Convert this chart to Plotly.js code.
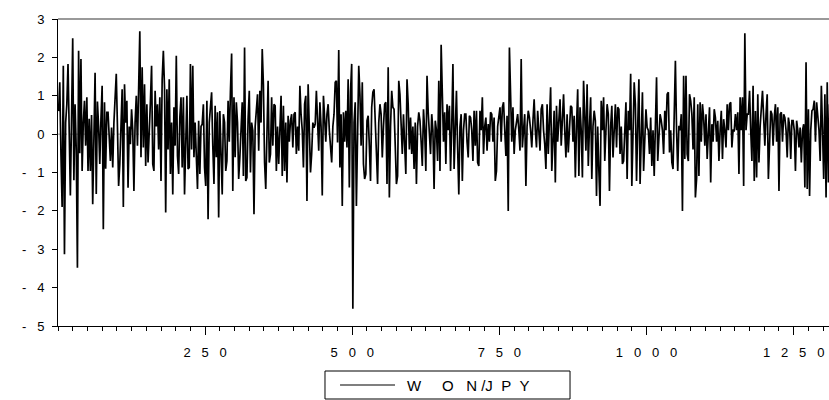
<!DOCTYPE html>
<html>
<head>
<meta charset="utf-8">
<script src="https://cdn.plot.ly/plotly-3.0.1.min.js"></script>
<style>html,body{margin:0;padding:0;background:#fff;}#chart{width:829px;height:400px;}</style>
</head>
<body>
<div id="chart"></div>
<script>
const seg0 = [0.6,1.35,-0.5,-1.9,1.78,-3.13,0.3,0.78,1.83,-0.6,-1.6,0.4,2.5,-1.2,0.78,-0.4,-3.48,2.17,-0.5,1.96,-0.96,0.3,0.87,-0.3,0.96,-0.96,0.4,-0.96,0.5,-1.83,0.3,1.6,-1.56,0.85,0.2,-0.78,0.4,1.26,-2.48,0.83,-0.9,0.57,0.57,-0.3,-0.7,0.17,-0.87,0.3,0.96,1.57,0.2,-1.35,-0.78,0.4,1.17,-1.9,1.3];
const seg1 = [0.3,0.87,-1.4,0.2,-0.26,0.65,0.1,-1.48,0.3,1.0,-0.3,0.9,2.68,-0.6,1.74,-0.35,1.3,-0.83,0.78,-0.74,0.4,0.83,1.78,-0.78,-0.96,1.13,0.2,0.78,-0.4,0.96,-1.22,1.43,2.17,1.2,-2.04,1.17,-0.4,1.43,-1.04,0.3,-1.57,0.7,-0.3,2.04,-0.57,-1.04,0.43,0.96,-0.87,0.96,-1.57,0.3,1.0,-0.91,-0.87,1.83,-0.4,1.78,-0.6,0.3];
const seg2 = [-0.6,-1.43,0.35,-1.04,0.2,0.26,0.78,-0.87,-1.35,0.87,-2.22,0.3,0.7,1.09,-0.3,-1.3,0.74,-0.6,0.57,-2.17,0.6,-0.3,-1.57,0.52,0.3,-0.96,-0.7,0.87,-0.2,1.13,2.1,-1.48,0.96,-0.6,0.83,0.3,-1.17,-0.6,0.2,0.83,-1.09,2.26,-1.22,-1.13,0.4,1.13,-1.0,0.3,0.09,-2.09,0.2,0.52,1.04,-0.43,1.13,0.3,2.22,1.3,-0.74];
const seg3 = [-1.43,0.6,1.39,-0.74,-0.52,0.96,-0.3,0.78,0.74,-0.96,0.2,-0.78,0.17,1.0,-1.09,0.74,-0.96,0.3,-1.26,0.48,-0.2,0.35,0.52,-0.35,0.52,0.57,-0.52,0.2,-0.43,1.26,0.52,0.1,-0.87,0.78,1.0,-1.74,1.3,0.2,-1.0,-0.52,0.3,0.17,0.26,1.13,0.1,-0.43,0.83,0.2,-1.6,1.0,0.43,-0.2,0.52,0.78,0.1,-0.35,-0.74,0.2,0.52,1.35];
const seg4 = [1.39,-0.22,2.19,-0.87,0.52,-1.87,0.57,-0.2,0.61,-0.35,1.43,-1.39,1.1,1.83,-4.55,0.3,0.83,-1.87,0.2,1.78,1.04,-0.3,1.35,-0.78,-1.17,-1.04,0.35,0.48,-0.3,-1.22,0.7,1.09,1.17,0.2,-0.7,-1.3,0.3,0.78,0.52,-0.61,0.2,0.78,0.83,-1.3,1.74,-1.65,0.2,1.13,0.7,0.65,-0.3,-1.3,-1.09,1.39,1.04,0.2,-0.52,0.52,-0.3];
const seg5 = [-1.04,1.43,0.78,-0.4,0.43,-0.52,0.2,-0.91,0.3,-1.3,0.2,0.57,0.35,-0.2,-0.83,0.65,0.1,-0.96,1.52,0.57,0.1,-0.52,0.52,0.1,-1.43,0.35,0.1,-0.7,1.39,-0.96,2.33,0.65,-0.2,0.57,-0.78,0.78,0.1,0.74,-0.96,0.2,1.83,-0.91,0.3,1.13,-0.35,-1.57,0.2,0.52,-1.22,0.1,0.52,0.52,-0.2,-0.61,0.48,0.43,0.1,-0.7,0.61,-0.3];
const seg6 = [0.61,-0.74,-0.83,0.61,0.1,0.96,-0.52,0.2,0.43,-0.43,0.26,-0.2,0.57,0.52,-0.2,0.43,-1.22,-0.96,0.2,0.52,0.7,-0.2,0.7,0.83,0.1,-0.57,0.48,-2.0,2.26,0.52,-0.2,0.7,-0.52,0.1,0.35,0.52,0.1,-0.43,1.96,-0.35,0.1,0.52,-1.35,0.2,0.61,0.43,0.1,-0.35,0.35,0.91,0.1,-0.35,0.61,0.1,-0.43,0.65,0.78,0.1,-0.26];
const seg7 = [-0.91,0.78,-0.52,0.2,1.22,-0.96,0.1,0.61,-1.26,0.74,-0.2,0.61,0.91,-0.3,0.52,1.04,0.1,-0.61,0.52,-0.48,0.1,0.74,0.7,-0.2,0.48,-1.13,0.2,1.17,-1.09,0.7,0.1,-1.13,1.39,0.2,-0.43,1.3,-0.83,0.2,0.96,-1.17,0.2,0.61,0.35,-1.61,0.2,-0.96,-1.87,0.87,0.1,0.96,-0.7,0.1,0.78,0.52,-1.48,0.2,0.74,-0.61,0.1,0.78];
const seg8 = [-0.35,0.7,0.65,-0.52,0.2,-0.78,-0.7,0.2,0.83,-1.17,0.61,0.1,1.57,-1.35,0.2,1.35,0.78,-1.22,0.2,1.43,-1.3,0.2,1.09,-0.96,0.1,0.65,0.17,0.1,-0.52,0.43,-0.83,0.1,-1.09,0.61,1.48,-0.7,0.1,0.52,0.35,0.1,-0.52,0.61,0.1,1.04,1.09,-0.48,0.1,-0.74,-0.91,0.43,1.91,0.1,-0.96,0.22,0.1,0.52,-2.0,1.52,-0.65];
const seg9 = [1.52,-0.52,-0.7,1.04,0.87,0.52,-0.4,0.96,-1.65,-1.17,0.78,-1.09,0.83,-0.2,0.78,0.43,-0.3,0.52,-0.65,0.1,0.7,-1.26,0.26,-0.2,0.65,0.43,-0.2,0.35,-0.7,0.1,0.61,-0.65,0.39,0.1,-0.35,0.78,0.1,0.78,0.83,-0.35,0.1,0.09,0.52,0.1,0.57,-1.04,0.96,0.1,0.96,-1.35,2.63,0.1,0.52,0.52,1.13,0.1,-0.7,1.26,-1.22,0.6];
const seg10 = [-1.13,1.04,-0.74,0.2,0.87,1.13,0.43,-0.3,0.52,1.04,-1.17,0.1,0.61,0.52,-0.3,0.43,0.78,-0.2,0.7,-1.48,0.52,0.57,-0.2,0.52,0.43,0.1,-0.61,0.43,0.22,-0.65,0.35,0.35,0.1,-0.96,0.35,0.1,-0.35,0.17,-0.74,0.1,0.26,-1.39,1.87,-1.43,0.65,-1.61,0.1,0.61,0.65,0.87,-0.2,0.83,0.52,0.1,-0.7,1.26,0.1,-1.17,1.04,-1.65,1.35,-1.26,0.78];

const NB = '\u00a0';
const sp = n => NB.repeat(n);
const seriesName = 'WON/JPY';
const legendLabel = 'W' + sp(5) + 'O' + sp(3) + 'N' + sp(1) + '/J' + sp(2) + 'P' + sp(2) + 'Y';
const xTickVals = [250, 500, 750, 1000, 1250];
const xTickText = xTickVals.map(v => String(v).split('').join(sp(3)));
const yTickVals = [3, 2, 1, 0, -1, -2, -3, -4, -5];
const yTickText = yTickVals.map(v => v < 0 ? '-' + sp(3) + Math.abs(v) : String(v));

const values = [].concat(seg0, seg1, seg2, seg3, seg4, seg5, seg6, seg7, seg8, seg9, seg10);
const obs = values.map((_, i) => 1 + 2 * i);

const fam = '"Liberation Sans", Arial, sans-serif';
const font = {family: fam, size: 13, color: '#000'};

Plotly.newPlot('chart', [{
  x: obs, y: values, type: 'scatter', mode: 'lines', name: seriesName,
  line: {color: '#000', width: 1.7}
}], {
  width: 829, height: 400,
  margin: {l: 58, r: 0, t: 19, b: 74},
  paper_bgcolor: '#fff', plot_bgcolor: '#fff',
  font: font,
  showlegend: false,
  xaxis: {
    range: [0, 1310], showgrid: false, zeroline: false,
    showline: true, linecolor: '#000', linewidth: 1,
    tickmode: 'array', tickvals: xTickVals, ticktext: xTickText,
    ticks: 'outside', ticklen: 8, tickcolor: '#000', tickwidth: 1,
    ticklabelstandoff: 6,
    minor: {tickmode: 'linear', tick0: 0, dtick: 25, ticks: 'outside', ticklen: 4, tickcolor: '#000', tickwidth: 1, showgrid: false},
    tickfont: font
  },
  yaxis: {
    range: [-5, 3], showgrid: false, zeroline: false,
    showline: true, linecolor: '#000', linewidth: 1,
    tickmode: 'array', tickvals: yTickVals, ticktext: yTickText,
    ticks: 'outside', ticklen: 5, tickcolor: '#000', tickwidth: 1,
    ticklabelstandoff: 5,
    tickfont: font
  },
  shapes: [
    {type: 'line', xref: 'paper', yref: 'paper', x0: 0, x1: 1, y0: 1, y1: 1, line: {color: '#777', width: 1.5}},
    {type: 'line', xref: 'paper', yref: 'y', x0: 0, x1: 1, y0: 0, y1: 0, layer: 'below', line: {color: '#999', width: 1, dash: 'dot'}},
    // legend box and key line
    {type: 'rect', xref: 'paper', yref: 'paper', x0: 0.3463, x1: 0.6641, y0: -0.2378, y1: -0.1466, line: {color: '#000', width: 1}, fillcolor: '#fff'},
    {type: 'line', xref: 'paper', yref: 'paper', x0: 0.3658, x1: 0.4371, y0: -0.1922, y1: -0.1922, line: {color: '#000', width: 1.2}}
  ],
  annotations: [
    {xref: 'paper', yref: 'paper', x: 0.4501, y: -0.1922, xanchor: 'left', yanchor: 'middle', showarrow: false,
     text: legendLabel, font: {family: fam, size: 15, color: '#000'}}
  ]
}, {displayModeBar: false, staticPlot: true});
</script>
</body>
</html>
